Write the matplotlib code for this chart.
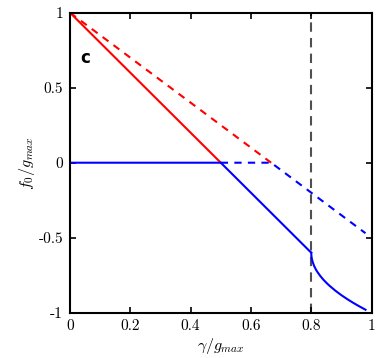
import matplotlib
matplotlib.use('Agg')
import matplotlib.pyplot as plt

# red branch (solid stable, dashed continuation)
red_solid_x = [0.0, 0.5]
red_solid_y = [1.0, 0.0]
red_dash_x = [0.0, 0.667]
red_dash_y = [1.0, 0.0]

# blue branch
blue_solid_x = [0.0, 0.5, 0.8]
blue_solid_y = [0.0, 0.0, -0.6]
blue_curve_x = [0.8, 0.8005, 0.802, 0.805, 0.81, 0.815, 0.82, 0.83, 0.84, 0.85,
                0.86, 0.88, 0.9, 0.92, 0.94, 0.96, 0.98]
blue_curve_y = [-0.6, -0.62, -0.64, -0.663, -0.69, -0.71, -0.727, -0.755, -0.779, -0.8,
                -0.819, -0.853, -0.883, -0.91, -0.935, -0.958, -0.98]
blue_dash_x = [0.5, 0.667, 0.98]
blue_dash_y = [0.0, 0.0, -0.47]

critical_x = 0.8

xticks = [0, 0.2, 0.4, 0.6, 0.8, 1]
xtick_labels = ['0', '0.2', '0.4', '0.6', '0.8', '1']
yticks = [-1, -0.5, 0, 0.5, 1]
ytick_labels = ['-1', '-0.5', '0', '0.5', '1']

plt.rcParams['mathtext.fontset'] = 'cm'
plt.rcParams['axes.unicode_minus'] = False

fig = plt.figure(figsize=(3.87, 3.58), dpi=100)
ax = fig.add_axes([0.181, 0.1265, 0.779, 0.838])

ax.axvline(critical_x, color='#505050', lw=1.5, ls=(0, (4.5, 3)), zorder=1)

ax.plot(red_dash_x, red_dash_y, color='red', lw=1.5, ls=(0, (3.5, 3)))
ax.plot(red_solid_x, red_solid_y, color='red', lw=1.5)
ax.plot(blue_dash_x, blue_dash_y, color='blue', lw=1.5, ls=(0, (3.5, 3)))
ax.plot(blue_solid_x, blue_solid_y, color='blue', lw=1.5)
ax.plot(blue_curve_x, blue_curve_y, color='blue', lw=1.5)

ax.text(0.033, 0.70, 'c', fontsize=12, fontweight='bold', family='DejaVu Sans',
        va='center', ha='left')

ax.set_xlim(0, 1)
ax.set_ylim(-1, 1)
ax.set_xticks(xticks)
ax.set_xticklabels(xtick_labels, family='cmr10', fontsize=11)
ax.set_yticks(yticks)
ax.set_yticklabels(ytick_labels, family='cmr10', fontsize=11)
ax.tick_params(direction='in', top=True, right=True, length=4.5, width=1.2, pad=5)

for s in ax.spines.values():
    s.set_linewidth(1.5)

ax.set_xlabel(r'$\gamma/g_{max}$', fontsize=11.5, labelpad=2)
ax.set_ylabel(r'$f_0/g_{max}$', fontsize=11.5, labelpad=1)

fig.savefig('out.png', dpi=100)
